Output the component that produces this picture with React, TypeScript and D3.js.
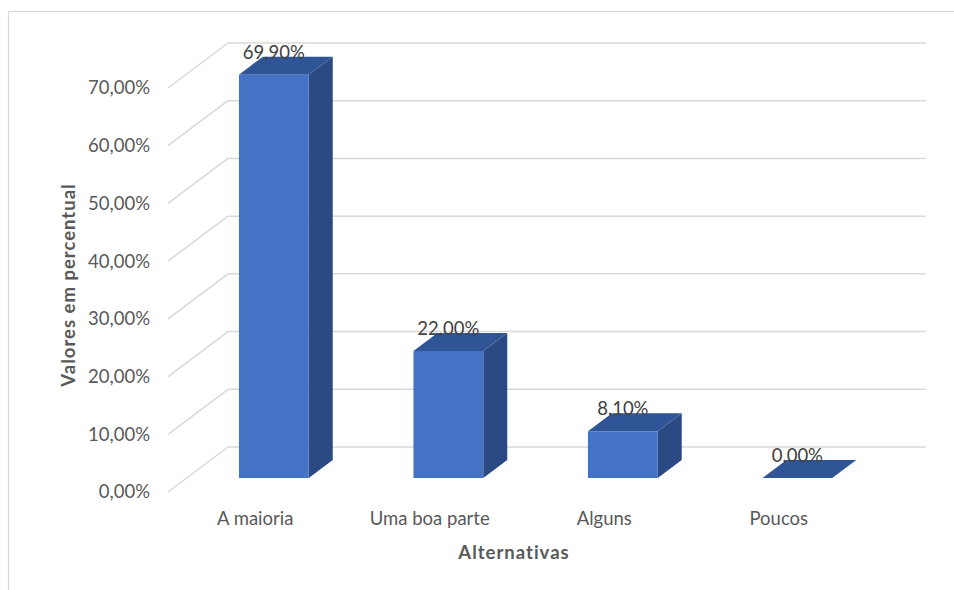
import React from "react";
import * as d3 from "d3";

// Survey answers and their share of responses (percent)
const categories: string[] = ["A maioria", "Uma boa parte", "Alguns", "Poucos"];
const values: number[] = [69.9, 22.0, 8.1, 0.0];
const yTicks: number[] = [0, 10, 20, 30, 40, 50, 60, 70];

const xAxisTitle = "Alternativas";
const yAxisTitle = "Valores em percentual";

const WIDTH = 954;
const HEIGHT = 590;

// Floor front edge and the depth vector of the 3D box
const FLOOR_LEFT = 168;
const FLOOR_RIGHT = 866;
const DEPTH_X = 60;
const DEPTH_Y = -45;
// Bars sit between these fractions of the total depth
const BAR_D0 = 0.31;
const BAR_D1 = 0.71;
const BAR_WIDTH_FRAC = 0.4;

const FONT = "Lato, 'Open Sans', sans-serif";
const FS = 18.5;
const fmt = (v: number) => v.toFixed(2).replace(".", ",") + "%";

export default function App() {
  const x = d3
    .scaleBand<string>()
    .domain(categories)
    .range([FLOOR_LEFT, FLOOR_RIGHT])
    .padding(0);
  const y = d3.scaleLinear().domain([0, 70]).range([492, 88]);

  const p = (px: number, py: number, d: number): [number, number] => [
    px + d * DEPTH_X,
    py + d * DEPTH_Y,
  ];
  const poly = (pts: [number, number][]) =>
    pts.map((q) => q.join(",")).join(" ");

  const bw = x.bandwidth();

  return (
    <svg
      width={WIDTH}
      height={HEIGHT}
      style={{ position: "absolute", left: 0, top: 0, background: "#fff" }}
      fontFamily={FONT}
    >
      {/* chart frame */}
      <rect
        x={8.5}
        y={11.5}
        width={WIDTH + 20}
        height={HEIGHT + 20}
        fill="#fff"
        stroke="#d9d9d9"
        strokeWidth={1.2}
      />

      {/* gridlines: left wall diagonals and back wall */}
      {yTicks.map((t) => {
        const [fx, fy] = p(FLOOR_LEFT, y(t), 0);
        const [bx, by] = p(FLOOR_LEFT, y(t), 1);
        const [ex] = p(FLOOR_RIGHT, y(t), 1);
        return (
          <g key={t} stroke="#d9d9d9" strokeWidth={1.5} fill="none">
            <line x1={fx} y1={fy} x2={bx} y2={by} />
            <line x1={bx} y1={by} x2={ex} y2={by} />
          </g>
        );
      })}

      {/* y tick labels */}
      {yTicks.map((t) => (
        <text
          key={"t" + t}
          x={150}
          y={y(t)}
          dy="0.35em"
          textAnchor="end"
          fontSize={FS}
          fill="#595959"
        >
          {fmt(t)}
        </text>
      ))}

      {/* 3D columns */}
      {categories.map((c, i) => {
        const v = values[i];
        const cx = (x(c) as number) + bw / 2;
        const l = cx - (bw * BAR_WIDTH_FRAC) / 2;
        const r = cx + (bw * BAR_WIDTH_FRAC) / 2;
        const y0 = y(0);
        const yv = y(v);
        const fl = p(l, y0, BAR_D0);
        const fr = p(r, y0, BAR_D0);
        const ftl = p(l, yv, BAR_D0);
        const ftr = p(r, yv, BAR_D0);
        const btl = p(l, yv, BAR_D1);
        const btr = p(r, yv, BAR_D1);
        const br = p(r, y0, BAR_D1);
        return (
          <g key={c}>
            {v > 0 && <polygon points={poly([fr, br, btr, ftr])} fill="#2B4A83" />}
            <polygon points={poly([ftl, ftr, btr, btl])} fill="#2F5597" />
            {v > 0 && <polygon points={poly([fl, fr, ftr, ftl])} fill="#4472C4" />}
            <text
              x={(fl[0] + fr[0]) / 2}
              y={ftl[1] - 16}
              textAnchor="middle"
              fontSize={FS}
              fill="#404040"
            >
              {fmt(v)}
            </text>
          </g>
        );
      })}

      {/* category labels */}
      {categories.map((c) => (
        <text
          key={"c" + c}
          x={(x(c) as number) + bw / 2}
          y={525}
          textAnchor="middle"
          fontSize={FS}
          fill="#595959"
        >
          {c}
        </text>
      ))}

      {/* axis titles */}
      <text
        x={514}
        y={559}
        textAnchor="middle"
        fontSize={FS}
        fontWeight="bold"
        letterSpacing={1}
        fill="#595959"
      >
        {xAxisTitle}
      </text>
      <text
        transform="translate(75,285) rotate(-90)"
        textAnchor="middle"
        fontSize={FS}
        fontWeight="bold"
        letterSpacing={1}
        fill="#595959"
      >
        {yAxisTitle}
      </text>
    </svg>
  );
}
